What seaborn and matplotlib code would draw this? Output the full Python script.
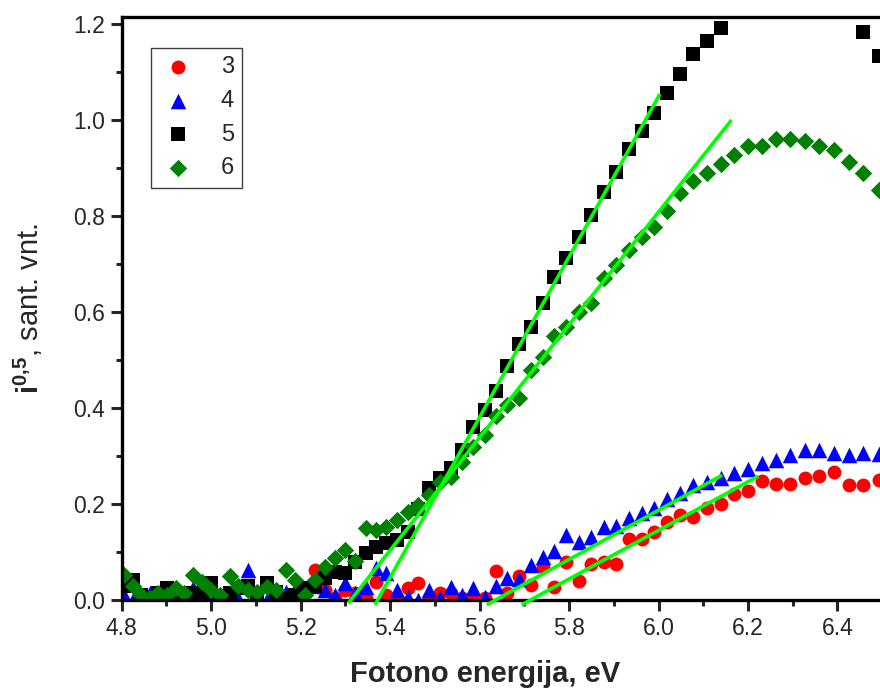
import numpy as np
import pandas as pd
import matplotlib
matplotlib.use("Agg")
import matplotlib.pyplot as plt
from matplotlib.ticker import AutoMinorLocator, FormatStrFormatter
import seaborn as sns

sns.set_style("ticks")
plt.rcParams['font.family'] = ['Liberation Sans', 'DejaVu Sans']
plt.rcParams['mathtext.fontset'] = 'custom'
plt.rcParams['mathtext.rm'] = 'Liberation Sans'
plt.rcParams['mathtext.bf'] = 'Liberation Sans:bold'

# photon energy (eV), one point per nm step
energy = [4.806, 4.825, 4.844, 4.863, 4.882, 4.901, 4.921, 4.940, 4.960, 4.980,
          5.000, 5.020, 5.041, 5.061, 5.082, 5.103, 5.124, 5.145, 5.167, 5.188,
          5.210, 5.232, 5.254, 5.277, 5.299, 5.322, 5.345, 5.368, 5.391, 5.415,
          5.439, 5.463, 5.487, 5.511, 5.536, 5.561, 5.586, 5.611, 5.636, 5.662,
          5.688, 5.714, 5.741, 5.767, 5.794, 5.822, 5.849, 5.877, 5.905, 5.933,
          5.962, 5.990, 6.019, 6.049, 6.078, 6.108, 6.139, 6.169, 6.200, 6.231,
          6.263, 6.294, 6.327, 6.359, 6.392, 6.425, 6.458, 6.492]

nan = np.nan
i3 = [nan, nan, nan, nan, nan, nan, nan, nan, nan, nan,
      nan, nan, nan, nan, nan, nan, nan, nan, nan, nan,
      nan, 0.0625, 0.021, 0.005, 0.021, 0.014, 0.005, 0.038, 0.010, 0.005,
      0.024, 0.035, 0.005, 0.014, 0.014, 0.005, 0.000, 0.005, 0.060, 0.014,
      0.051, 0.031, 0.069, 0.028, 0.080, 0.040, 0.075, 0.080, 0.075, 0.128,
      0.128, 0.142, 0.163, 0.177, 0.172, 0.191, 0.201, 0.221, 0.227, 0.248,
      0.242, 0.241, 0.255, 0.258, 0.267, 0.240, 0.240, 0.250]

i4 = [0.010, 0.000, 0.005, 0.014, 0.000, 0.005, 0.000, 0.005, 0.024, 0.010,
      0.000, 0.005, 0.010, 0.005, 0.063, 0.010, 0.000, 0.010, 0.017, 0.020,
      0.005, 0.030, 0.020, 0.010, 0.035, 0.015, 0.028, 0.066, 0.057, 0.021,
      0.007, 0.000, 0.021, 0.005, 0.028, 0.010, 0.024, 0.007, 0.030, 0.045,
      0.043, 0.073, 0.089, 0.103, 0.135, 0.121, 0.132, 0.153, 0.155, 0.170,
      0.182, 0.192, 0.210, 0.222, 0.240, 0.245, 0.254, 0.264, 0.273, 0.285,
      0.291, 0.302, 0.313, 0.313, 0.306, 0.302, 0.306, 0.304]

i5 = [0.030, 0.042, 0.010, 0.000, 0.015, 0.024, 0.010, 0.000, 0.015, 0.010,
      0.035, 0.005, 0.015, 0.024, 0.029, 0.010, 0.035, 0.017, 0.005, 0.010,
      0.024, 0.030, 0.045, 0.059, 0.056, 0.080, 0.097, 0.111, 0.119, 0.125,
      0.142, 0.190, 0.233, 0.255, 0.274, 0.312, 0.361, 0.396, 0.436, 0.488,
      0.533, 0.568, 0.618, 0.672, 0.712, 0.757, 0.802, 0.851, 0.891, 0.940,
      0.978, 1.014, 1.057, 1.096, 1.138, 1.165, 1.191, 1.250, 1.280, 1.300,
      1.310, 1.310, 1.300, 1.280, 1.250, 1.225, 1.183, 1.134]

i6 = [0.052, 0.030, 0.010, 0.005, 0.014, 0.010, 0.024, 0.015, 0.052, 0.038,
      0.020, 0.010, 0.049, 0.030, 0.020, 0.017, 0.028, 0.020, 0.062, 0.042,
      0.010, 0.042, 0.069, 0.087, 0.104, 0.082, 0.149, 0.146, 0.153, 0.167,
      0.184, 0.198, 0.219, 0.246, 0.257, 0.288, 0.319, 0.344, 0.383, 0.406,
      0.421, 0.479, 0.507, 0.549, 0.569, 0.601, 0.618, 0.670, 0.698, 0.729,
      0.757, 0.778, 0.810, 0.847, 0.872, 0.890, 0.908, 0.927, 0.946, 0.946,
      0.960, 0.960, 0.957, 0.946, 0.938, 0.913, 0.889, 0.854]

# linear fits (end points)
fit3_e = [5.694, 6.223]
fit3_v = [-0.010, 0.258]
fit4_e = [5.616, 6.142]
fit4_v = [-0.010, 0.260]
fit5_e = [5.366, 6.003]
fit5_v = [-0.010, 1.054]
fit6_e = [5.306, 6.163]
fit6_v = [-0.007, 1.000]

samples = ['3', '4', '5', '6']
colors = {'3': '#FF0000', '4': '#0000FF', '5': '#000000', '6': '#008000'}
markers = {'3': 'o', '4': '^', '5': 's', '6': 'D'}
msize = {'3': 100, '4': 125, '5': 88, '6': 78}
xticks = [4.8, 5.0, 5.2, 5.4, 5.6, 5.8, 6.0, 6.2, 6.4]
yticks = [0.0, 0.2, 0.4, 0.6, 0.8, 1.0, 1.2]

frames = []
for name, vals in zip(samples, [i3, i4, i5, i6]):
    frames.append(pd.DataFrame({'E': energy, 'I': vals, 'sample': name}))
df = pd.concat(frames).dropna()

fig = plt.figure(figsize=(8.8, 6.96), dpi=100)
ax = fig.add_axes([121.7 / 880, 1 - 600 / 696, 758.3 / 880, 583.2 / 696])

for name in samples:
    sub = df[df['sample'] == name]
    sns.scatterplot(data=sub, x='E', y='I', color=colors[name], marker=markers[name],
                    s=msize[name], linewidth=0, label=name, ax=ax)

for fe, fv in [(fit3_e, fit3_v), (fit4_e, fit4_v), (fit5_e, fit5_v), (fit6_e, fit6_v)]:
    ax.plot(fe, fv, color='#00FF00', lw=2.6, clip_on=False, zorder=5,
            solid_capstyle='butt')

ax.set_xlim(4.8, 6.495)
ax.set_ylim(0, 1.215)
ax.set_xticks(xticks)
ax.set_yticks(yticks)
ax.xaxis.set_minor_locator(AutoMinorLocator(2))
ax.yaxis.set_minor_locator(AutoMinorLocator(2))
ax.xaxis.set_major_formatter(FormatStrFormatter('%.1f'))
ax.yaxis.set_major_formatter(FormatStrFormatter('%.1f'))
ax.tick_params(which='major', direction='out', length=8, width=2.2,
               labelsize=16.5, pad=4, top=False, right=False)
ax.tick_params(which='minor', direction='out', length=4.5, width=2.2,
               top=False, right=False)

for side in ['left', 'bottom', 'top']:
    ax.spines[side].set_linewidth(2.4)
    ax.spines[side].set_color('black')
ax.spines['right'].set_visible(False)

ax.set_xlabel('Fotono energija, eV', fontsize=21, fontweight='bold')
ax.set_ylabel(r'$\mathbf{i^{0{,}5}}$, sant. vnt.', fontsize=21)
ax.xaxis.set_label_coords(0.479, -0.103)
ax.yaxis.set_label_coords(-0.101, 0.5)

handles, labels = ax.get_legend_handles_labels()
leg = ax.legend(handles, labels, loc='upper left', bbox_to_anchor=(0.0386, 0.947),
                fontsize=17, frameon=True, fancybox=False, framealpha=1,
                edgecolor='#404040', borderpad=0.35, labelspacing=0.5,
                handletextpad=1.0, handlelength=1.6, borderaxespad=0)
leg.get_frame().set_linewidth(1.0)

fig.savefig('out.png', dpi=100)
